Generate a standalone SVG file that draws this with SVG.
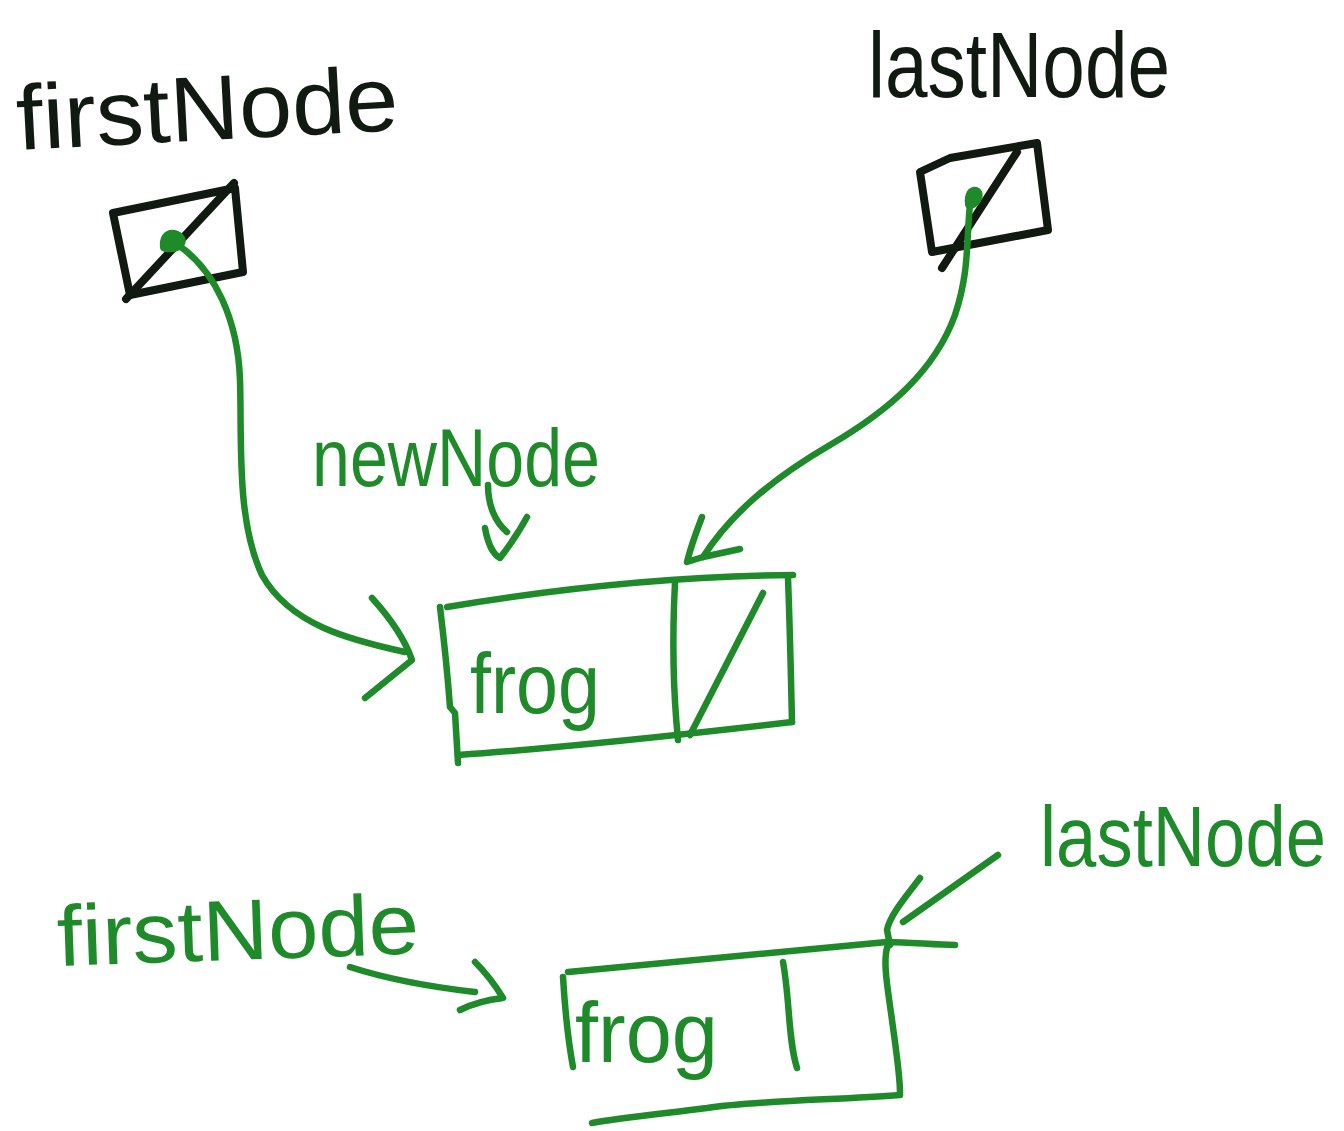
<svg xmlns="http://www.w3.org/2000/svg" width="1344" height="1131" viewBox="0 0 1344 1131">
<style>
.k{fill:none;stroke:#101a10;stroke-width:8;stroke-linecap:round;stroke-linejoin:round}
.g{fill:none;stroke:#1e8a2a;stroke-width:6.5;stroke-linecap:round;stroke-linejoin:round}
.tk{font-family:"Liberation Sans",Arial,sans-serif;fill:#101a10}
.tg{font-family:"Liberation Sans",Arial,sans-serif;fill:#1e8a2a}
</style>
<rect width="1344" height="1131" fill="#ffffff"/>

<g id="label-firstNode-top">
<text class="tk" x="18" y="150" font-size="92" textLength="382" lengthAdjust="spacingAndGlyphs" transform="rotate(-3 18 150)">firstNode</text>
</g>
<g id="label-lastNode-top">
<text class="tk" x="868" y="97" font-size="92" textLength="302" lengthAdjust="spacingAndGlyphs">lastNode</text>
</g>

<g id="firstNode-box">
<path class="k" d="M113,213 L235,188 L243,272 L130,295 Z"/>
<path class="k" d="M126,299 L234,183"/>
<path d="M160,248 C158,232 170,226 180,232 C190,238 186,250 174,252 C166,253 161,252 160,248 Z" fill="#1e8a2a"/>
</g>

<g id="lastNode-box">
<path class="k" d="M920,172 L950,158 L1037,143 L1048,230 L932,252 Z"/>
<path class="k" d="M942,268 L1017,152"/>
<path d="M965,205 C963,190 972,184 979,188 C986,193 982,204 974,208 C969,210 966,209 965,205 Z" fill="#1e8a2a"/>
</g>

<g id="label-newNode">
<text class="tg" x="312" y="486" font-size="82" textLength="288" lengthAdjust="spacingAndGlyphs">newNode</text>
</g>

<g id="newNode-box">
<path class="g" d="M447,607 C560,588 680,576 793,575"/>
<path class="g" d="M788,578 C790,630 791,680 792,722"/>
<path class="g" d="M792,722 C680,735 560,748 458,755"/>
<path class="g" d="M440,607 C444,640 448,680 450,707 L455,713 L458,763"/>
<path class="g" d="M675,583 C672,640 674,700 678,740"/>
<path class="g" d="M763,593 L690,735"/>
<text class="tg" x="470" y="713" font-size="86" textLength="130" lengthAdjust="spacingAndGlyphs">frog</text>
</g>

<g id="label-lastNode-bottom">
<text class="tg" x="0" y="0" font-size="73" textLength="286" lengthAdjust="spacingAndGlyphs" transform="translate(1040,866) scale(1,1.18)">lastNode</text>
</g>
<g id="label-firstNode-bottom">
<text class="tg" x="58" y="966" font-size="86" textLength="362" lengthAdjust="spacingAndGlyphs" transform="rotate(-2 58 966)">firstNode</text>
</g>

<g id="result-box">
<path class="g" d="M568,972 C680,962 790,952 887,942 C910,942 935,945 955,945"/>
<path class="g" d="M888,945 C882,960 888,990 892,1020 C896,1050 900,1075 900,1093"/>
<path class="g" d="M900,1095 C840,1100 760,1100 707,1108 C660,1114 620,1118 592,1123"/>
<path class="g" d="M563,977 C565,1010 568,1040 573,1067"/>
<path class="g" d="M783,962 C790,1000 788,1040 797,1068"/>
<text class="tg" x="575" y="1062" font-size="86" textLength="143" lengthAdjust="spacingAndGlyphs">frog</text>
</g>

<g id="connectors">
<path class="g" d="M178,245 C215,270 238,320 240,380 C242,440 236,520 262,575 C290,625 350,640 405,652"/>
<path class="g" d="M372,598 C392,620 405,640 412,660 L365,698"/>
<path class="g" d="M970,205 C966,240 970,270 955,315 C935,370 890,410 830,445 C770,480 730,515 703,557"/>
<path class="g" d="M702,517 C695,535 690,550 687,562 L703,557 L740,549"/>
<path class="g" d="M488,485 C488,505 495,522 507,532"/>
<path class="g" d="M485,528 C488,545 494,555 500,558 C510,545 520,530 527,517"/>
<path class="g" d="M998,855 L903,922"/>
<path class="g" d="M920,878 C905,898 890,915 887,930 L890,945"/>
<path class="g" d="M350,967 C390,980 440,988 475,992"/>
<path class="g" d="M475,962 C488,975 497,988 503,998 C485,1000 470,1005 460,1010"/>
</g>
</svg>
